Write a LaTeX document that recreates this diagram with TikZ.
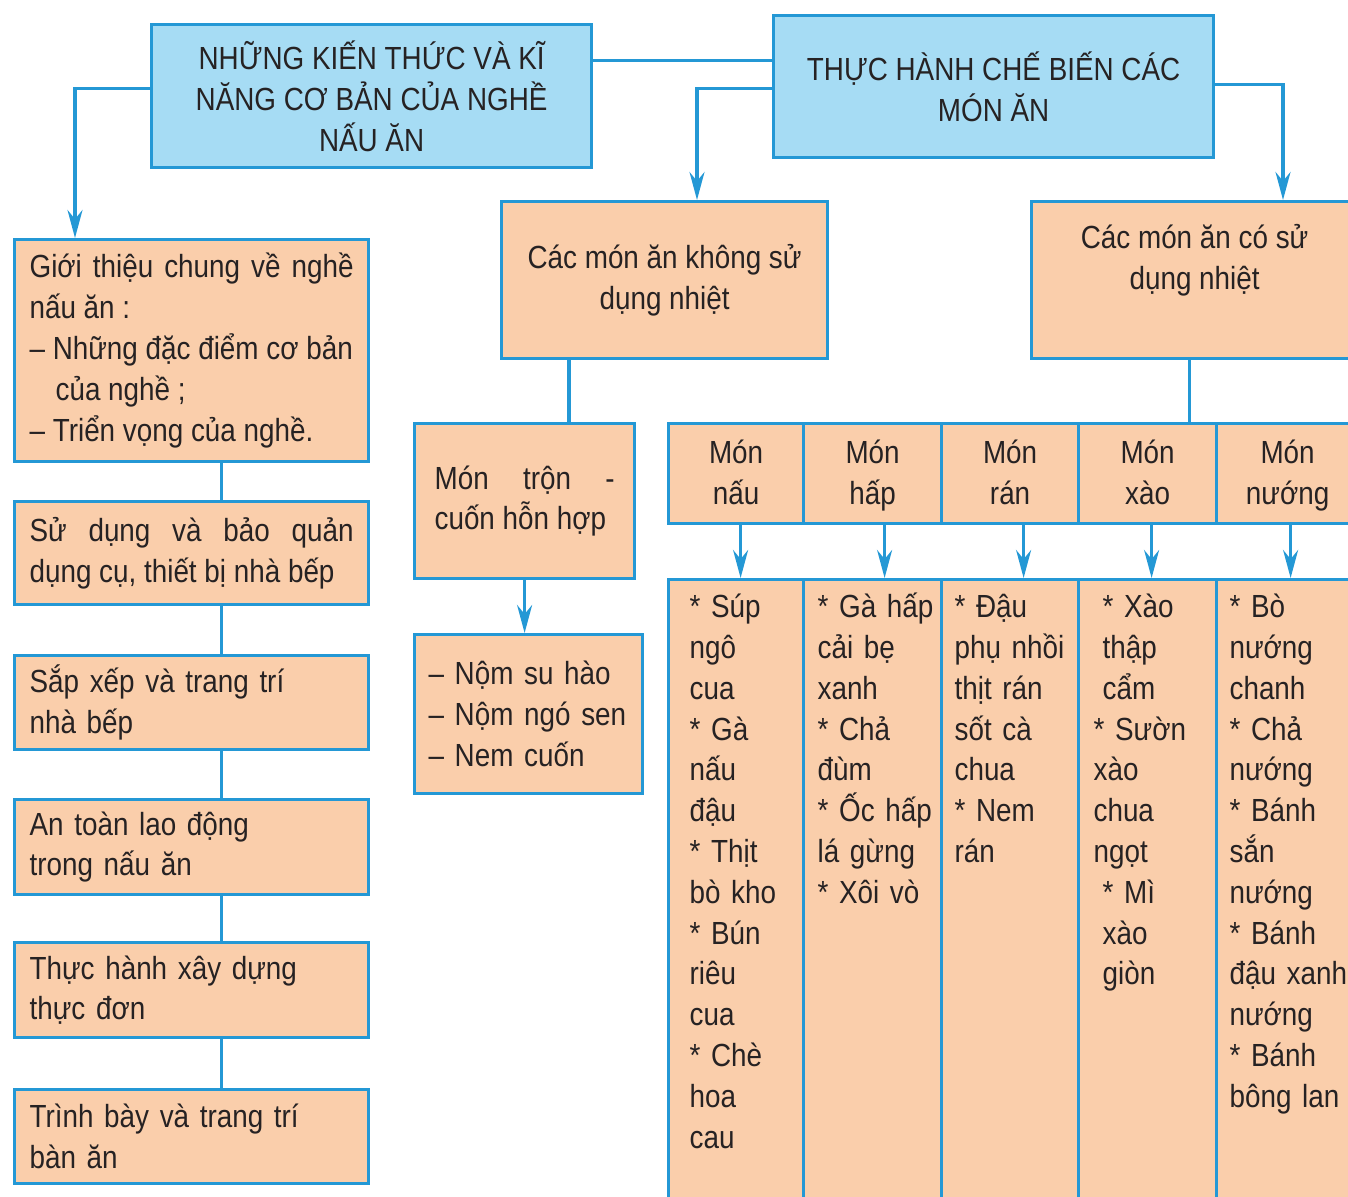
\documentclass[tikz,border=0pt]{standalone}
\usepackage{fontspec}
\setmainfont[FakeStretch=0.87]{Liberation Sans}
\usepackage{xcolor}
\usepackage{tikz}
\usetikzlibrary{arrows.meta}
\definecolor{lineblue}{RGB}{36,152,213}
\definecolor{skyfill}{RGB}{166,220,244}
\definecolor{peachfill}{RGB}{250,206,171}
\definecolor{inkgray}{RGB}{38,34,35}
\newcommand{\bodysize}{\fontsize{16pt}{20.4pt}\selectfont}
\hyphenpenalty=10000

% one cooking method: header cell, dish list under it, arrow between
% #1 name, #2 left x, #3 width, #4 text width, #5 padding, #6 arrow shift, #7 kind, #8 dishes
\newcommand{\dish}[8]{
\node[peachbox, align=center, inner xsep=0pt, minimum width=#3, text height=40.5pt, text depth=9.5pt] (#1) at (#2,422) {Món\\#7};
\node[peachbox, align=left, inner xsep=#5, text width=#4, text height=19pt, text depth=330pt] (#1list) at (#2,578) {#8};
\draw[arr] ([xshift=#6]#1.south) -- ([xshift=#6]#1list.north);
}

\begin{document}
\begin{tikzpicture}[x=0.5pt, y=-0.5pt,
  every node/.style={font=\bodysize, text=inkgray},
  bluebox/.style={draw=lineblue, fill=skyfill, line width=1.6pt, anchor=north west, inner sep=0pt, align=center, minimum width=220pt},
  peachbox/.style={draw=lineblue, fill=peachfill, line width=1.6pt, anchor=north west, inner ysep=0pt},
  stagebox/.style={peachbox, inner xsep=7.5pt, text width=162pt, align=left},
  link/.style={draw=lineblue, line width=1.6pt},
  arr/.style={link, -{Stealth[length=14pt, width=7.5pt]}}]

\useasboundingbox (0,0) rectangle (1348,1197);
\clip (0,0) rectangle (1348,1197);

% titles
\node[bluebox, minimum height=71.5pt] (know) at (150,23) {NHỮNG KIẾN THỨC VÀ KĨ\\NĂNG CƠ BẢN CỦA NGHỀ\\NẤU ĂN};
\node[bluebox, minimum height=71pt] (prac) at (772,14) {THỰC HÀNH CHẾ BIẾN CÁC\\MÓN ĂN};

% left column
\node[stagebox, align=justify, minimum height=111pt] (gioi) at (13,238) {Giới thiệu chung về nghề nấu ăn :\\– Những đặc điểm cơ bản\\\hspace*{13pt}của nghề ;\\– Triển vọng của nghề.};
\node[stagebox, align=justify, minimum height=51.5pt] (sudung) at (13,500) {Sử dụng và bảo quản dụng cụ, thiết bị nhà bếp};
\node[stagebox, minimum height=47pt] (sapxep) at (13,654) {Sắp xếp và trang trí\\nhà bếp};
\node[stagebox, minimum height=47.5pt] (antoan) at (13,798) {An toàn lao động\\trong nấu ăn};
\node[stagebox, minimum height=47.5pt] (thuchanh) at (13,941) {Thực hành xây dựng\\thực đơn};
\node[stagebox, minimum height=47pt] (trinhbay) at (13,1088) {Trình bày và trang trí\\bàn ăn};

% dishes without / with heat
\node[peachbox, align=center, inner xsep=0pt, minimum width=163pt, minimum height=78.5pt] (cold) at (500,200) {Các món ăn không sử\\dụng nhiệt};
\node[peachbox, align=center, inner xsep=0pt, minimum width=163pt, minimum height=78.5pt] (hot) at (1030,200) {Các món ăn có sử\\dụng nhiệt\\[3pt]\mbox{}};

\node[peachbox, align=justify, inner xsep=10pt, text width=90pt, minimum height=77.5pt] (tron) at (413,422) {Món trộn -\linebreak cuốn~hỗn~hợp};
\node[peachbox, align=left, inner xsep=7pt, text width=100pt, minimum height=79.5pt] (nom) at (413,633) {\mbox{– Nộm su hào}\\\mbox{– Nộm ngó sen}\\\mbox{– Nem cuốn}};

\dish{nau}{667}{67.5pt}{46.5pt}{10.5pt}{2.25pt}{nấu}{* Súp\\ngô\\cua\\{*} Gà\\nấu\\đậu\\{*} Thịt\\bò kho\\{*} Bún\\riêu\\cua\\{*} Chè\\hoa\\cau}
\dish{hap}{802}{69pt}{55pt}{7pt}{6pt}{hấp}{\mbox{* Gà hấp}\\cải bẹ\\xanh\\{*} Chả\\đùm\\\mbox{* Ốc hấp}\\lá gừng\\{*} Xôi vò}
\dish{ran}{940}{68.5pt}{55.5pt}{6.5pt}{6.75pt}{rán}{* Đậu\\phụ nhồi\\thịt rán\\sốt cà\\chua\\{*} Nem\\rán}
\dish{xao}{1077}{69pt}{54pt}{7.5pt}{2pt}{xào}{\hspace*{4.5pt}* Xào\\\hspace*{4.5pt}thập\\\hspace*{4.5pt}cẩm\\{*} Sườn\\xào\\chua\\ngọt\\\hspace*{4.5pt}* Mì\\\hspace*{4.5pt}xào\\\hspace*{4.5pt}giòn}
\dish{nuong}{1215}{71pt}{58pt}{6.5pt}{1.5pt}{nướng}{* Bò\\nướng\\chanh\\{*} Chả\\nướng\\{*} Bánh\\sắn\\nướng\\{*} Bánh\\\mbox{đậu xanh}\\nướng\\{*} Bánh\\bông lan}

% connectors
\coordinate (kp) at ([yshift=17.75pt]know.east);
\draw[link] (kp) -- (kp -| prac.west);
\draw[arr] ([yshift=3.75pt]know.west) -| ([xshift=31pt]gioi.north west);
\draw[arr] ([yshift=-1pt]prac.west) -| ([xshift=98.5pt]cold.north west);
\draw[arr] ([yshift=1pt]prac.east) -| ([xshift=126.5pt]hot.north west);

\foreach \a/\b in {gioi/sudung, sudung/sapxep, sapxep/antoan, antoan/thuchanh, thuchanh/trinhbay}
  \draw[link] ([xshift=15pt]\a.south) -- ([xshift=15pt]\b.north);

\coordinate (cd) at ([xshift=34.5pt]cold.south west);
\draw[link] (cd) -- (cd |- tron.north);
\draw[arr] (tron.south) -- (tron.south |- nom.north);

\coordinate (hd) at ([xshift=-2.5pt]hot.south);
\draw[link] (hd) -- (hd |- xao.north);

\end{tikzpicture}
\end{document}
